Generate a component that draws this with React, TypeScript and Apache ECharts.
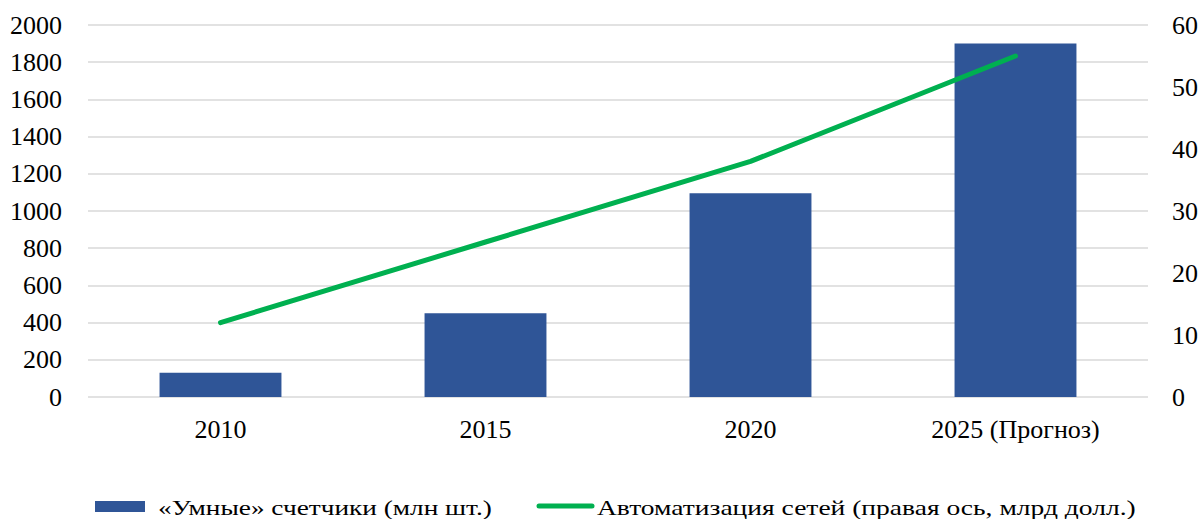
import React, { useEffect, useRef } from "react";
import * as echarts from "echarts";

const categories = ["2010", "2015", "2020", "2025 (Прогноз)"];
const meters = [130, 450, 1095, 1900];
const automation = [12, 25, 38, 55];
const barName = "«Умные» счетчики (млн шт.)";
const lineName = "Автоматизация сетей (правая ось, млрд долл.)";

const FONT = "Liberation Serif";
const BAR_COLOR = "#2F5597";
const LINE_COLOR = "#00B050";

function measure(text: string, font: string): number {
  const c = document.createElement("canvas");
  const ctx = c.getContext("2d");
  if (!ctx) return 1;
  ctx.font = font;
  return ctx.measureText(text).width || 1;
}

export default function App() {
  const ref = useRef<HTMLDivElement>(null);
  useEffect(() => {
    if (!ref.current) return;
    const chart = echarts.init(ref.current, undefined, { renderer: "svg" });
    const fmt = (v: number) => String(v);
    const legendFont = "22px 'Liberation Serif'";
    const s1 = 334 / measure(barName, legendFont);
    const s2 = 539 / measure(lineName, legendFont);
    chart.setOption({
      animation: false,
      textStyle: { fontFamily: FONT, color: "#000" },
      grid: { left: 88, right: 55, top: 25, bottom: 122, containLabel: false },
      graphic: [
        { type: "rect", shape: { x: 95, y: 501, width: 50, height: 11 }, style: { fill: BAR_COLOR } },
        {
          type: "text",
          x: 158,
          y: 507,
          scaleX: s1,
          style: { text: barName, font: legendFont, fill: "#000", verticalAlign: "middle", align: "left" },
        },
        {
          type: "line",
          shape: { x1: 539, y1: 506, x2: 592, y2: 506 },
          style: { stroke: LINE_COLOR, lineWidth: 5, lineCap: "round" },
        },
        {
          type: "text",
          x: 597,
          y: 507,
          scaleX: s2,
          style: { text: lineName, font: legendFont, fill: "#000", verticalAlign: "middle", align: "left" },
        },
      ],
      xAxis: {
        type: "category",
        data: categories,
        axisLine: { show: false },
        axisTick: { show: false },
        axisLabel: { fontFamily: FONT, fontSize: 26, color: "#000", margin: 19 },
      },
      yAxis: [
        {
          type: "value",
          min: 0,
          max: 2000,
          interval: 200,
          axisLine: { show: false },
          axisTick: { show: false },
          axisLabel: { fontFamily: FONT, fontSize: 26, color: "#000", margin: 26, formatter: fmt },
          splitLine: { lineStyle: { color: "#D9D9D9", width: 1.5 } },
        },
        {
          type: "value",
          min: 0,
          max: 60,
          interval: 10,
          position: "right",
          axisLine: { show: false },
          axisTick: { show: false },
          axisLabel: { fontFamily: FONT, fontSize: 26, color: "#000", margin: 24, formatter: fmt },
          splitLine: { show: false },
        },
      ],
      series: [
        {
          name: barName,
          type: "bar",
          data: meters,
          barWidth: "46%",
          itemStyle: { color: BAR_COLOR },
        },
        {
          name: lineName,
          type: "line",
          yAxisIndex: 1,
          data: automation,
          symbol: "none",
          lineStyle: { color: LINE_COLOR, width: 5, cap: "round" },
          itemStyle: { color: LINE_COLOR },
        },
      ],
    });
    return () => chart.dispose();
  }, []);
  return (
    <div
      ref={ref}
      style={{ position: "fixed", left: 0, top: 0, width: 1203, height: 519, background: "#fff" }}
    />
  );
}
